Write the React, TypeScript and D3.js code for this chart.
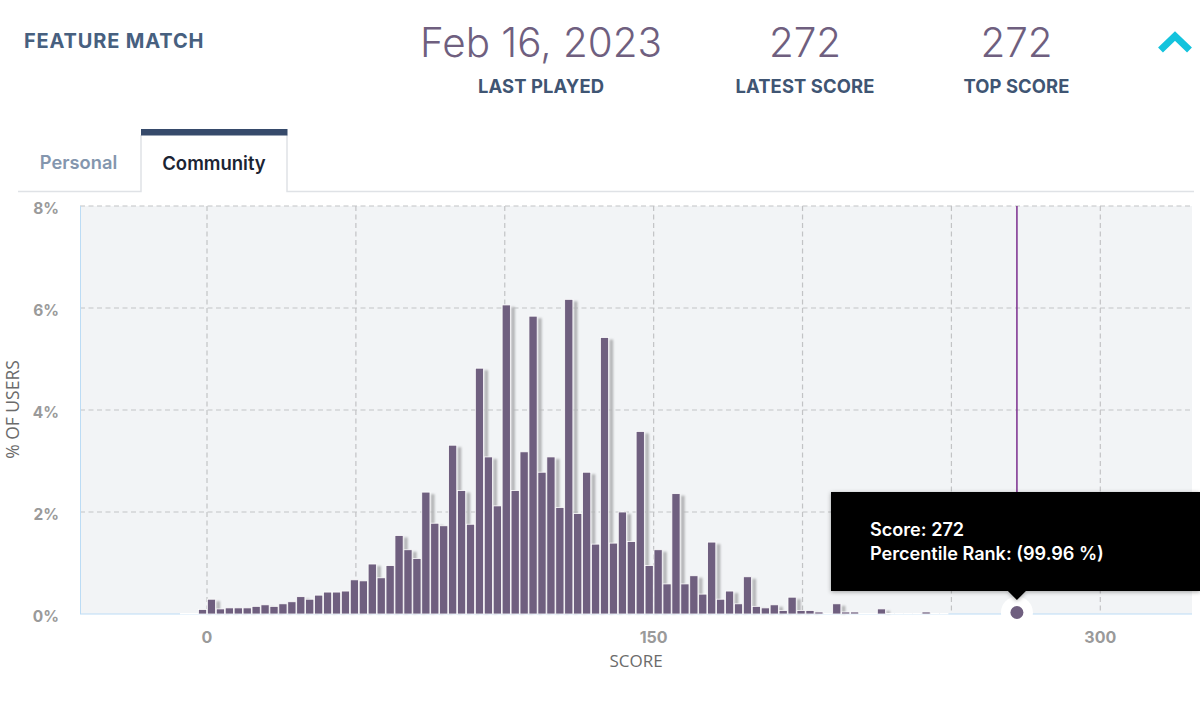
import React from "react";
import * as d3 from "d3";

const binStarts = [-9,-6,-3,0,3,6,9,12,15,18,21,24,27,30,33,36,39,42,45,48,51,54,57,60,63,66,69,72,75,78,81,84,87,90,93,96,99,102,105,108,111,114,117,120,123,126,129,132,135,138,141,144,147,150,153,156,159,162,165,168,171,174,177,180,183,186,189,192,195,198,201,204,207,210,213,216,219,222,225,228,231,234,237,240,243,246];
const percentUsers = [0.01,0.01,0.09,0.29,0.10,0.12,0.12,0.12,0.15,0.18,0.15,0.20,0.24,0.34,0.29,0.37,0.43,0.43,0.45,0.67,0.65,0.98,0.71,0.95,1.54,1.26,1.09,2.39,1.78,1.73,3.31,2.42,1.76,4.82,3.08,2.12,6.06,2.42,3.18,5.84,2.78,3.08,2.09,6.17,1.97,2.78,1.37,5.42,1.39,2.00,1.42,3.58,0.95,1.26,0.59,2.36,0.59,0.75,0.39,1.41,0.29,0.45,0.20,0.73,0.15,0.12,0.18,0.07,0.33,0.07,0.07,0.04,0.01,0.20,0.04,0.04,0.01,0.01,0.10,0.01,0.01,0.01,0.01,0.04,0.01,0.01];
const binWidth = 3;
const xGrid = [0,50,100,150,200,250,300];
const xTickLabels = [0,150,300];
const yTicks = [0,2,4,6,8];
const playerScore = 272;
const headerStats = [
  { value: "Feb 16, 2023", label: "LAST PLAYED", cx: 541 },
  { value: "272", label: "LATEST SCORE", cx: 805 },
  { value: "272", label: "TOP SCORE", cx: 1016.5 },
];
const tooltipLines = ["Score: 272", "Percentile Rank: (99.96 %)"];

const FONT = "Inter, Lato, sans-serif";
const PURPLE = "#6f5f7f";
const plot = { left: 80, right: 1192, top: 206, bottom: 614 };

export default function App() {
  const x = d3.scaleLinear().domain([0, 300]).range([207, 1100.3]);
  const y = d3.scaleLinear().domain([0, 8]).range([plot.bottom, plot.top]);
  const bars = binStarts.map((s, i) => ({ s, v: percentUsers[i] }));
  const bw = x(binWidth) - x(0);
  const barW = bw - 0.7;
  const px = x(playerScore);
  return (
    <svg width={1200} height={720} viewBox="0 0 1200 720"
      style={{ position: "absolute", left: 0, top: 0, background: "#fff", fontFamily: FONT }}>
      <defs>
        <filter id="soft" x="-150%" width="400%" y="-5%" height="110%">
          <feGaussianBlur stdDeviation="0.8" />
        </filter>
        <filter id="tipShadow" x="-5%" y="-5%" width="110%" height="120%">
          <feDropShadow dx="0" dy="1" stdDeviation="2" floodColor="#000" floodOpacity="0.35" />
        </filter>
      </defs>

      <text x={24} y={48} fontSize={20} letterSpacing={0.85} fontWeight={700} fill="#47607f">FEATURE MATCH</text>
      {headerStats.map((h) => (
        <g key={h.label} textAnchor="middle">
          <text x={h.cx} y={57} fontSize={40.4} fontWeight={300} fill={PURPLE}>{h.value}</text>
          <text x={h.cx} y={93} fontSize={18.4} letterSpacing={0.1} fontWeight={700} fill="#3f5573">{h.label}</text>
        </g>
      ))}
      <path d="M1160.5 50 L1175 36 L1189.5 50" fill="none" stroke="#14c3dd" strokeWidth={7} strokeLinejoin="miter" />

      <path d="M18 191.5H141V135M287 135V191.5H1194" fill="none" stroke="#dfe2e6" strokeWidth={1.5} />
      <rect x={141} y={129} width={146.5} height={6.5} fill="#364a6b" />
      <text x={78.5} y={169} fontSize={18.3} fontWeight={600} fill="#8496ae" textAnchor="middle">Personal</text>
      <text x={214} y={170} fontSize={18.5} fontWeight={600} fill="#1b2433" textAnchor="middle">Community</text>

      <rect x={plot.left} y={plot.top} width={plot.right - plot.left} height={plot.bottom - plot.top} fill="#f2f4f6" />
      <g stroke="#c2c3c5" strokeWidth={1.2} strokeDasharray="5 3.5" fill="none">
        {yTicks.filter((t) => t > 0).map((t) => (
          <line key={t} x1={plot.left} x2={plot.right} y1={y(t)} y2={y(t)} />
        ))}
        {xGrid.map((t) => (
          <line key={t} x1={x(t)} x2={x(t)} y1={plot.top} y2={plot.bottom} />
        ))}
      </g>
      <line x1={80.5} x2={80.5} y1={plot.top} y2={plot.bottom} stroke="#bcdcf5" strokeWidth={1} />
      <line x1={plot.left} x2={plot.right} y1={614} y2={614} stroke="#bcdcf5" strokeWidth={1.2} />

      <g filter="url(#soft)">
        {bars.filter((b) => b.v >= 0.05).map((b) => (
          <rect key={b.s} x={x(b.s) + 0.35 + barW + 0.9} y={y(b.v) + 2}
            width={3.6} height={Math.max(0, plot.bottom - y(b.v) - 2)} fill="#b2b3b5" />
        ))}
      </g>
      <g>
        {bars.map((b) => (
          <rect key={b.s} x={x(b.s) + 0.35} y={y(b.v)} width={barW}
            height={plot.bottom - y(b.v)} fill={PURPLE} stroke="#fff" strokeWidth={0.8} />
        ))}
      </g>

      <line x1={px} x2={px} y1={plot.top} y2={plot.bottom} stroke="#7b2d8e" strokeWidth={1.5} />

      <g fontSize={15.5} fontWeight={700} fill="#9a9a9a" textAnchor="end">
        {yTicks.map((t) => (
          <text key={t} x={59} y={y(t) + 7.5}>{t}%</text>
        ))}
      </g>
      <g fontSize={16} fontWeight={700} fill="#9a9a9a" textAnchor="middle">
        {xTickLabels.map((t) => (
          <text key={t} x={x(t)} y={643}>{t}</text>
        ))}
      </g>
      <text x={636} y={667} fontSize={17} fill="#6b6b6b" textAnchor="middle" fontFamily="'Open Sans', sans-serif">SCORE</text>
      <text transform="translate(19,409.5) rotate(-90)" fontSize={17.5} fill="#6b6b6b" textAnchor="middle" fontFamily="'Open Sans', sans-serif">% OF USERS</text>

      <circle cx={px} cy={612.5} r={16} fill="#fff" />
      <circle cx={px} cy={612.5} r={6.5} fill={PURPLE} />
      <path d={`M831 492H1200V591H${px + 9}L${px} 600L${px - 9} 591H831Z`} fill="#000" filter="url(#tipShadow)" />
      <g fontSize={18.1} fontWeight={600} fill="#fff">
        {tooltipLines.map((l, i) => (
          <text key={l} x={870} y={536 + i * 24}>{l}</text>
        ))}
      </g>
    </svg>
  );
}
